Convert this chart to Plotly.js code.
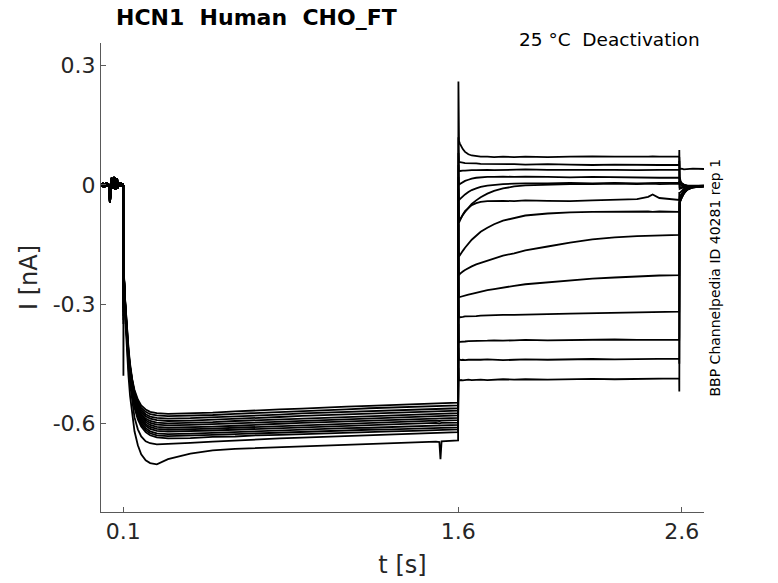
<!DOCTYPE html>
<html>
<head>
<meta charset="utf-8">
<script src="https://cdn.plot.ly/plotly-3.0.1.min.js"></script>
<style>
	body { margin: 0; background: #fff; }
	#chart { width: 778px; height: 583px; }
</style>
</head>
<body>
<div id="chart"></div>
<script>
// Sweeps listed from top to bottom of the deactivation step
const sweepNames = ["A", "B", "C", "D", "E", "F", "G", "H", "I", "J", "K", "L", "M", "N"];

// holding segment, shared by every sweep
const holdTimes = [0, 0.004, 0.008, 0.012, 0.016, 0.02, 0.024, 0.028, 0.032, 0.036, 0.04, 0.044, 0.048,
	0.052, 0.056, 0.06, 0.064, 0.068, 0.072, 0.076, 0.08, 0.084, 0.088, 0.092, 0.096, 0.0995];
const holdCurrent = [0.003, -0.004, 0.005, -0.006, 0.002, -0.005, 0.006, -0.003, 0.004, -0.008, -0.045, -0.006, 0.018,
	-0.01, 0.008, 0.02, -0.012, 0.006, 0.016, -0.008, 0.004, -0.005, 0.006, -0.004, 0.003, -0.002];

// activation step (0.1 s - 1.6 s)
const actTimes = [0.1, 0.1004, 0.1015, 0.104, 0.108, 0.112, 0.117, 0.123, 0.13, 0.14, 0.15, 0.165, 0.18, 0.2,
	0.22, 0.25, 0.3, 0.4, 0.5, 0.6, 0.7, 0.8, 0.9, 1.0, 1.1, 1.2, 1.3, 1.4, 1.5, 1.515, 1.52, 1.525, 1.599];
const actCurrent = [
	[0, -0.30, -0.22, -0.26, -0.33, -0.38, -0.43, -0.48, -0.53, -0.58, -0.62, -0.655, -0.678, -0.693, -0.70, -0.703, -0.69, -0.676, -0.668, -0.664, -0.662, -0.659, -0.658, -0.655, -0.654, -0.652, -0.65, -0.648, -0.646, -0.647, -0.69, -0.645, -0.643],
	[0, -0.28, -0.21, -0.25, -0.31, -0.36, -0.41, -0.46, -0.50, -0.55, -0.585, -0.615, -0.633, -0.645, -0.65, -0.653, -0.652, -0.649, -0.646, -0.643, -0.641, -0.638, -0.636, -0.634, -0.632, -0.63, -0.628, -0.626, -0.624, -0.624, -0.623, -0.624, -0.622],
	[0, -0.33, -0.21, -0.25, -0.31, -0.355, -0.40, -0.445, -0.485, -0.53, -0.56, -0.59, -0.608, -0.622, -0.63, -0.635, -0.638, -0.637, -0.634, -0.633, -0.63, -0.629, -0.627, -0.625, -0.624, -0.622, -0.62, -0.619, -0.617, -0.617, -0.616, -0.617, -0.615],
	[0, -0.26, -0.21, -0.25, -0.305, -0.35, -0.395, -0.44, -0.48, -0.525, -0.555, -0.585, -0.603, -0.617, -0.625, -0.63, -0.632, -0.631, -0.629, -0.627, -0.625, -0.623, -0.621, -0.62, -0.618, -0.616, -0.615, -0.613, -0.611, -0.612, -0.611, -0.611, -0.61],
	[0, -0.31, -0.22, -0.255, -0.31, -0.35, -0.395, -0.44, -0.48, -0.522, -0.55, -0.58, -0.598, -0.612, -0.62, -0.625, -0.627, -0.626, -0.624, -0.621, -0.62, -0.617, -0.616, -0.614, -0.612, -0.611, -0.609, -0.607, -0.605, -0.606, -0.605, -0.605, -0.604],
	[0, -0.27, -0.21, -0.25, -0.3, -0.345, -0.39, -0.435, -0.475, -0.518, -0.546, -0.575, -0.593, -0.606, -0.614, -0.619, -0.621, -0.62, -0.618, -0.616, -0.614, -0.612, -0.61, -0.608, -0.606, -0.605, -0.603, -0.601, -0.599, -0.6, -0.599, -0.599, -0.598],
	[0, -0.35, -0.22, -0.255, -0.305, -0.35, -0.39, -0.435, -0.472, -0.515, -0.543, -0.571, -0.589, -0.602, -0.609, -0.614, -0.616, -0.615, -0.613, -0.611, -0.609, -0.606, -0.604, -0.602, -0.601, -0.599, -0.597, -0.595, -0.593, -0.594, -0.593, -0.593, -0.592],
	[0, -0.29, -0.21, -0.245, -0.3, -0.345, -0.385, -0.43, -0.47, -0.512, -0.54, -0.567, -0.585, -0.597, -0.604, -0.609, -0.611, -0.61, -0.608, -0.606, -0.603, -0.601, -0.599, -0.597, -0.595, -0.593, -0.591, -0.589, -0.587, -0.588, -0.587, -0.587, -0.586],
	[0, -0.32, -0.22, -0.25, -0.3, -0.34, -0.385, -0.428, -0.466, -0.508, -0.536, -0.563, -0.58, -0.592, -0.599, -0.603, -0.605, -0.604, -0.602, -0.6, -0.597, -0.595, -0.593, -0.591, -0.589, -0.587, -0.585, -0.583, -0.581, -0.582, -0.581, -0.581, -0.58],
	[0, -0.27, -0.21, -0.245, -0.295, -0.34, -0.38, -0.425, -0.463, -0.505, -0.533, -0.559, -0.576, -0.588, -0.594, -0.598, -0.6, -0.599, -0.597, -0.594, -0.592, -0.59, -0.587, -0.585, -0.583, -0.581, -0.579, -0.577, -0.575, -0.576, -0.575, -0.575, -0.574],
	[0, -0.3, -0.21, -0.245, -0.295, -0.335, -0.38, -0.42, -0.46, -0.5, -0.528, -0.554, -0.571, -0.582, -0.588, -0.592, -0.594, -0.593, -0.591, -0.588, -0.586, -0.584, -0.581, -0.579, -0.577, -0.575, -0.573, -0.571, -0.569, -0.57, -0.569, -0.569, -0.568],
	[0, -0.34, -0.22, -0.25, -0.3, -0.34, -0.38, -0.42, -0.458, -0.498, -0.525, -0.55, -0.566, -0.577, -0.583, -0.586, -0.588, -0.587, -0.585, -0.582, -0.58, -0.578, -0.575, -0.573, -0.571, -0.569, -0.567, -0.565, -0.563, -0.564, -0.563, -0.563, -0.562],
	[0, -0.26, -0.21, -0.24, -0.29, -0.33, -0.375, -0.415, -0.455, -0.495, -0.52, -0.545, -0.561, -0.571, -0.577, -0.58, -0.582, -0.581, -0.579, -0.576, -0.574, -0.571, -0.569, -0.567, -0.565, -0.562, -0.56, -0.558, -0.556, -0.557, -0.556, -0.556, -0.555],
	[0, -0.48, -0.22, -0.245, -0.29, -0.33, -0.37, -0.41, -0.45, -0.49, -0.516, -0.54, -0.555, -0.565, -0.571, -0.574, -0.576, -0.575, -0.573, -0.57, -0.567, -0.565, -0.563, -0.56, -0.558, -0.556, -0.554, -0.552, -0.55, -0.55, -0.549, -0.55, -0.548]
];

// deactivation test step (1.6 s - 2.59 s)
const deTimes = [1.6004, 1.603, 1.607, 1.612, 1.62, 1.63, 1.645, 1.66, 1.68, 1.7, 1.73, 1.76, 1.8, 1.85,
	1.9, 2.0, 2.1, 2.2, 2.3, 2.4, 2.45, 2.47, 2.5, 2.589];
const deCurrent = [
	[0.26, 0.11, 0.104, 0.097, 0.09, 0.083, 0.077, 0.074, 0.072, 0.071, 0.071, 0.07, 0.071, 0.07, 0.071, 0.07, 0.071, 0.072, 0.071, 0.07, 0.071, 0.072, 0.071, 0.071],
	[0.12, 0.058, 0.057, 0.056, 0.056, 0.055, 0.055, 0.054, 0.054, 0.053, 0.053, 0.052, 0.053, 0.052, 0.051, 0.052, 0.051, 0.05, 0.051, 0.05, 0.051, 0.05, 0.05, 0.05],
	[0.08, 0.035, 0.035, 0.036, 0.036, 0.036, 0.037, 0.037, 0.037, 0.038, 0.038, 0.037, 0.038, 0.038, 0.039, 0.038, 0.038, 0.039, 0.038, 0.037, 0.038, 0.039, 0.038, 0.038],
	[0.05, 0.0, 0.002, 0.004, 0.007, 0.01, 0.013, 0.016, 0.018, 0.019, 0.02, 0.02, 0.021, 0.02, 0.021, 0.02, 0.019, 0.02, 0.019, 0.018, 0.019, 0.018, 0.018, 0.018],
	[0.02, -0.038, -0.036, -0.033, -0.029, -0.024, -0.018, -0.013, -0.009, -0.005, -0.002, 0.0, 0.002, 0.003, 0.004, 0.004, 0.005, 0.004, 0.005, 0.004, 0.005, 0.006, 0.005, 0.005],
	[-0.01, -0.09, -0.087, -0.082, -0.076, -0.068, -0.058, -0.048, -0.039, -0.031, -0.022, -0.015, -0.009, -0.004, -0.001, 0.001, 0.002, 0.002, 0.003, 0.002, 0.003, 0.003, 0.002, 0.003],
	[-0.03, -0.095, -0.09, -0.083, -0.075, -0.066, -0.058, -0.051, -0.046, -0.043, -0.041, -0.04, -0.04, -0.041, -0.039, -0.04, -0.041, -0.039, -0.038, -0.036, -0.03, -0.024, -0.033, -0.038],
	[-0.1, -0.18, -0.177, -0.172, -0.166, -0.158, -0.148, -0.138, -0.128, -0.118, -0.108, -0.099, -0.09, -0.083, -0.077, -0.072, -0.069, -0.068, -0.067, -0.066, -0.067, -0.068, -0.067, -0.068],
	[-0.17, -0.227, -0.224, -0.221, -0.218, -0.214, -0.209, -0.205, -0.2, -0.196, -0.19, -0.185, -0.178, -0.172, -0.165, -0.155, -0.145, -0.137, -0.132, -0.129, -0.128, -0.127, -0.127, -0.126],
	[-0.23, -0.283, -0.282, -0.281, -0.28, -0.278, -0.276, -0.274, -0.271, -0.268, -0.265, -0.262, -0.258, -0.254, -0.25, -0.245, -0.24, -0.236, -0.233, -0.23, -0.229, -0.228, -0.228, -0.227],
	[-0.29, -0.333, -0.333, -0.332, -0.332, -0.331, -0.331, -0.33, -0.33, -0.329, -0.328, -0.328, -0.327, -0.327, -0.326, -0.325, -0.324, -0.323, -0.322, -0.321, -0.321, -0.32, -0.32, -0.319],
	[-0.35, -0.396, -0.395, -0.395, -0.394, -0.394, -0.393, -0.393, -0.392, -0.393, -0.392, -0.391, -0.392, -0.391, -0.39, -0.391, -0.39, -0.39, -0.389, -0.39, -0.389, -0.39, -0.39, -0.39],
	[-0.41, -0.44, -0.44, -0.441, -0.44, -0.441, -0.44, -0.44, -0.441, -0.44, -0.439, -0.44, -0.441, -0.44, -0.439, -0.44, -0.439, -0.438, -0.439, -0.438, -0.437, -0.438, -0.437, -0.437],
	[-0.46, -0.492, -0.492, -0.491, -0.492, -0.491, -0.49, -0.491, -0.49, -0.49, -0.491, -0.49, -0.489, -0.49, -0.489, -0.49, -0.489, -0.488, -0.489, -0.488, -0.488, -0.487, -0.488, -0.487]
];

// back to holding (tails)
const postTimes = [2.5894, 2.591, 2.595, 2.6, 2.61, 2.625, 2.65, 2.7];
const postCurrent = [
	[0.088, 0.02, 0.01, 0.005, 0.001, -0.002, -0.002, -0.002],
	[0.07, 0.042, 0.04, 0.041, 0.039, 0.04, 0.041, 0.04],
	[0.06, 0.012, 0.006, 0.003, 0.0, -0.002, -0.003, -0.002],
	[0.04, 0.004, 0.001, -0.001, -0.002, -0.003, -0.003, -0.002],
	[0.02, -0.006, -0.006, -0.005, -0.004, -0.003, -0.003, -0.003],
	[0.01, -0.01, -0.009, -0.008, -0.006, -0.004, -0.003, -0.003],
	[-0.02, -0.02, -0.018, -0.015, -0.01, -0.006, -0.004, -0.003],
	[-0.06, -0.03, -0.026, -0.021, -0.014, -0.008, -0.005, -0.003],
	[-0.12, -0.036, -0.032, -0.026, -0.017, -0.01, -0.005, -0.003],
	[-0.2, -0.04, -0.035, -0.028, -0.019, -0.011, -0.006, -0.003],
	[-0.3, -0.042, -0.037, -0.03, -0.02, -0.011, -0.006, -0.003],
	[-0.38, -0.043, -0.038, -0.031, -0.021, -0.012, -0.006, -0.003],
	[-0.45, -0.044, -0.039, -0.031, -0.021, -0.012, -0.006, -0.004],
	[-0.52, -0.045, -0.04, -0.032, -0.022, -0.012, -0.006, -0.004]
];

const xTicks = [0.1, 1.6, 2.6];
const xTickLabels = ["0.1", "1.6", "2.6"];
const yTicks = [0.3, 0, -0.3, -0.6];
const yTickLabels = ["0.3", "0", "-0.3", "-0.6"];

const FONT = "DejaVu Sans, sans-serif";
const AXIS_COLOR = "#595959";
const TEXT_COLOR = "#262626";

function buildSweep(i) {
	return {
		name: sweepNames[i],
		x: holdTimes.concat(actTimes, deTimes, postTimes),
		y: holdCurrent.concat(actCurrent[i], deCurrent[i], postCurrent[i]),
		type: "scatter",
		mode: "lines",
		line: { color: "#000", width: 1.8 },
		hoverinfo: "skip"
	};
}

let data = [];
for (let i = 0; i < sweepNames.length; i++) {
	data.push(buildSweep(i));
}

let layout = {
	width: 778,
	height: 583,
	margin: { l: 101, r: 74, t: 43, b: 71 },
	paper_bgcolor: "#fff",
	plot_bgcolor: "#fff",
	showlegend: false,
	font: { family: FONT, color: TEXT_COLOR },
	title: {
		text: "HCN1  Human  CHO_FT",
		font: { family: FONT, size: 22, weight: "bold", color: "#000" },
		xref: "container",
		x: 116 / 778,
		xanchor: "left",
		yref: "container",
		y: 1 - 17 / 583,
		yanchor: "middle"
	},
	xaxis: {
		range: [0, 2.7],
		tickvals: xTicks,
		ticktext: xTickLabels,
		ticks: "inside",
		ticklen: 5,
		tickcolor: AXIS_COLOR,
		showline: true,
		linecolor: AXIS_COLOR,
		linewidth: 1,
		showgrid: false,
		zeroline: false,
		tickfont: { size: 22, color: TEXT_COLOR },
		title: { text: "t [s]", font: { size: 24, color: TEXT_COLOR }, standoff: 12 }
	},
	yaxis: {
		range: [-0.823, 0.357],
		tickvals: yTicks,
		ticktext: yTickLabels,
		ticks: "inside",
		ticklen: 5,
		tickcolor: AXIS_COLOR,
		showline: true,
		linecolor: AXIS_COLOR,
		linewidth: 1,
		showgrid: false,
		zeroline: false,
		tickfont: { size: 22, color: TEXT_COLOR },
		title: { text: "I [nA]", font: { size: 24, color: TEXT_COLOR }, standoff: 8 }
	},
	annotations: [
		{
			text: "25 °C  Deactivation",
			xref: "paper", yref: "paper",
			x: 0.9975, y: 1.007,
			xanchor: "right", yanchor: "middle",
			showarrow: false,
			font: { size: 18.5, color: "#000" }
		},
		{
			text: "BBP Channelpedia ID 40281 rep 1",
			xref: "paper", yref: "paper",
			x: 1.019, y: 0.501,
			xanchor: "center", yanchor: "middle",
			textangle: -90,
			showarrow: false,
			font: { size: 14, color: "#000" }
		}
	]
};

Plotly.newPlot("chart", data, layout, { staticPlot: true });
</script>
</body>
</html>
